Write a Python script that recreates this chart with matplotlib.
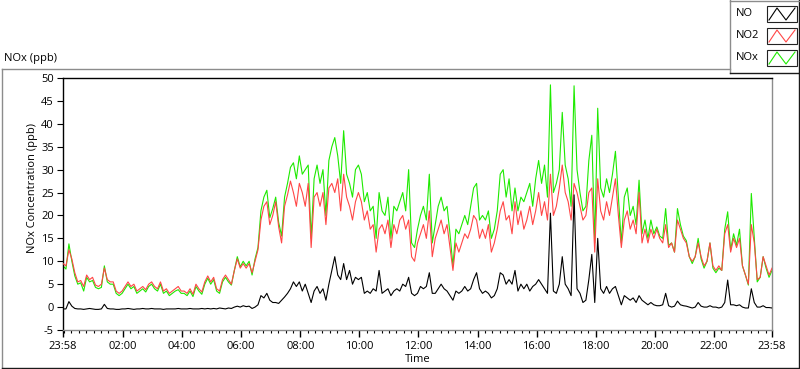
import matplotlib
matplotlib.use("Agg")
import matplotlib.pyplot as plt
import matplotlib.dates as mdates
from matplotlib.lines import Line2D
from matplotlib.patches import Rectangle
import pandas as pd

plt.rcParams['font.family'] = ['Open Sans', 'DejaVu Sans']

# ---------------- data (6-minute samples) ----------------
start_time = "2000-01-01 23:58"
sample_minutes = 6

no2 = [9.5, 9.0, 12.5, 10.5, 7.5, 5.5, 5.8, 4.5, 7.0, 6.0,
       6.5, 4.8, 4.5, 5.0, 8.5, 6.0, 5.5, 5.5, 3.5, 3.0,
       3.5, 4.5, 5.5, 4.5, 5.0, 3.5, 4.0, 4.5, 3.8, 5.0,
       5.5, 4.5, 4.0, 5.5, 3.5, 4.0, 3.0, 3.5, 4.0, 4.5,
       3.5, 3.5, 3.0, 4.0, 2.8, 5.0, 4.0, 3.3, 5.5, 6.8,
       5.5, 6.5, 4.0, 3.5, 6.0, 7.0, 6.0, 5.0, 8.0, 10.5,
       8.5, 9.5, 8.5, 9.5, 7.5, 10.0, 12.5, 19.0, 22.0, 23.0,
       18.0, 20.0, 23.0, 17.5, 14.0, 22.0, 24.5, 27.5, 25.0, 22.0,
       27.0, 25, 22, 27, 13, 24, 25, 22, 25, 18,
       26, 27, 25, 28, 21, 29, 24, 22, 19, 23,
       25, 23, 19, 21, 17, 18, 12, 17, 18, 16,
       19, 13, 18, 16, 19, 20, 17, 19, 11, 10,
       14, 16, 18, 15, 21, 11, 15, 17, 19, 16,
       18, 13, 8, 14, 12, 14, 16, 15, 17, 20,
       19, 15, 17, 15, 18, 12, 14, 17, 21, 23,
       19, 20, 16, 23, 18, 21, 17, 19, 22, 18,
       21, 25, 20, 23, 19, 29, 20, 22, 26, 31,
       25, 23, 19, 27, 25, 22, 19, 20, 25, 26,
       12, 28, 21, 19, 23, 20, 24, 28, 20, 13,
       19, 21, 17, 19, 16, 25, 14, 17, 14, 17,
       15, 17, 15, 14, 18, 13, 14, 12, 19, 17,
       15, 14, 11, 10, 11, 14, 11, 9, 10, 14,
       9, 8, 9, 8, 16, 18, 12, 15, 13, 15,
       9, 7, 5, 18, 14, 6, 6.5, 11, 9, 7,
       8.5]

nox = [9.0, 8.3, 13.8, 10.0, 6.8, 5.0, 5.3, 3.5, 6.5, 5.5,
       5.8, 4.3, 4.0, 4.3, 9.0, 5.5, 5.0, 5.0, 3.0, 2.5,
       3.0, 4.0, 5.0, 4.0, 4.5, 3.0, 3.5, 4.0, 3.3, 4.5,
       5.0, 4.0, 3.5, 5.0, 3.0, 3.5, 2.5, 3.0, 3.5, 3.8,
       3.0, 3.0, 2.5, 3.5, 2.3, 4.5, 3.5, 2.8, 5.0, 6.3,
       5.0, 6.0, 3.5, 3.0, 5.5, 6.5, 5.5, 4.8, 8.0, 11.0,
       8.8, 10.0, 9.0, 10.0, 7.0, 10.5, 13.0, 21.0, 24.0, 25.5,
       19.5, 21.5, 24.0, 18.5, 15.5, 24.0, 27.0, 30.5, 31.5, 28.0,
       33.0, 29, 30, 31, 15, 28, 31, 27, 30, 20,
       32, 35, 37, 33, 27, 38.5, 29, 27, 24, 30,
       31, 29, 23, 25, 21, 22, 15, 25, 21, 20,
       24, 15, 22, 21, 23, 25, 21, 30, 14, 13,
       17, 20, 22, 19, 29, 14, 18, 22, 24, 21,
       22, 16, 9, 17, 16, 18, 20, 18, 22, 26,
       27, 19, 20, 19, 21, 15, 17, 21, 29, 30,
       24, 28, 21, 26, 21, 24, 23, 25, 27, 22,
       28, 32, 27, 31, 24, 48.5, 25, 27, 30, 42.5,
       31, 28, 22, 48.3, 30, 25, 21, 22, 32, 37.5,
       14, 43.4, 26, 24, 28, 25, 29, 34, 24, 14,
       24, 26, 20, 22, 18, 27.7, 16, 19, 15, 19,
       16, 17.5, 15.5, 15, 21.5, 13.5, 14, 12, 21.5, 18,
       15.5, 14.5, 11, 9.5, 11, 15, 10.5, 8.5, 10, 14,
       8.5, 7.5, 8.5, 8, 17, 20.8, 12.5, 16, 13.5, 17,
       9, 7, 4.8, 24.8, 15, 5.5, 6.5, 11, 8.5, 6.5,
       8]

no = [-0.4, -0.4, 1.2, 0.2, -0.3, -0.4, -0.4, -0.5, -0.4, -0.3,
      -0.4, -0.5, -0.5, -0.4, 0.6, -0.3, -0.4, -0.4, -0.5, -0.5,
      -0.4, -0.4, -0.3, -0.4, -0.5, -0.4, -0.4, -0.3, -0.4, -0.4,
      -0.3, -0.4, -0.4, -0.4, -0.5, -0.4, -0.4, -0.4, -0.4, -0.3,
      -0.4, -0.4, -0.4, -0.3, -0.4, -0.4, -0.4, -0.3, -0.4, -0.3,
      -0.4, -0.3, -0.4, -0.2, -0.3, -0.4, -0.2, -0.3, 0.0, 0.2,
      0.0, 0.3, 0.1, 0.2, -0.3, 0.0, 0.5, 2.5, 2.0, 3.0,
      1.5, 1.0, 1.0, 0.8, 1.5, 2.2, 3.0, 4.0, 5.5, 4.5,
      5.5, 3.5, 5.0, 3.0, 1.0, 3.5, 4.5, 3.0, 4.0, 1.5,
      5.0, 8.0, 11.0, 7.0, 6.0, 9.5, 6.0, 8.0, 5.0, 6.5,
      6.0, 6.5, 3.0, 3.5, 3.0, 4.0, 3.5, 8.0, 3.0, 3.5,
      4.0, 2.5, 3.5, 4.0, 3.5, 5.0, 4.5, 6.5, 3.0, 2.5,
      3.0, 4.5, 4.0, 4.5, 7.5, 3.0, 3.0, 4.0, 5.0, 4.0,
      3.5, 2.5, 1.5, 3.5, 3.0, 3.5, 4.5, 3.5, 4.0, 6.0,
      7.5, 4.0, 3.0, 3.5, 3.0, 2.0, 2.5, 4.0, 7.5, 7.0,
      5.0, 6.0, 5.0, 8.0, 3.5, 5.0, 4.0, 5.0, 3.5, 4.5,
      5.0, 6.0, 5.0, 4.0, 3.0, 20.5, 3.5, 3.0, 5.0, 11.0,
      5.0, 4.0, 2.5, 24.5, 4.0, 3.0, 1.0, 1.5, 6.0, 11.5,
      1.0, 15.0, 4.0, 3.0, 4.5, 3.0, 4.0, 4.5, 2.5, 0.5,
      2.5, 2.0, 1.5, 2.0, 1.0, 2.5, 1.5, 1.0, 0.5, 1.0,
      0.5, 0.3, 0.3, 0.5, 3.0, 0.3, 0.0, 0.2, 1.3, 0.5,
      0.3, 0.2, 0.0, -0.2, 0.0, 1.0, 0.2, 0.0, 0.0, 0.3,
      0.0, 0.0, -0.2, 0.0, 1.0, 5.9, 0.5, 0.5, 0.3, 0.5,
      0.0, -0.2, -0.2, 4.0, 1.0, 0.0, 0.0, 0.3, -0.1, -0.1,
      -0.2]

y_ticks = [-5, 0, 5, 10, 15, 20, 25, 30, 35, 40, 45, 50]
x_tick_times = ["2000-01-01 23:58", "2000-01-02 02:00", "2000-01-02 04:00",
                "2000-01-02 06:00", "2000-01-02 08:00", "2000-01-02 10:00",
                "2000-01-02 12:00", "2000-01-02 14:00", "2000-01-02 16:00",
                "2000-01-02 18:00", "2000-01-02 20:00", "2000-01-02 22:00",
                "2000-01-02 23:58"]
series_names = ["NO", "NO2", "NOx"]

# ---------------- figure ----------------
W, H = 800, 369
fig = plt.figure(figsize=(W / 100, H / 100), dpi=100)
fig.patch.set_facecolor("white")


def fx(px):
    return px / W


def fy(py):
    return 1 - py / H


times = pd.date_range(start_time, periods=len(no2), freq=f"{sample_minutes}min")

ax_l, ax_r, ax_t, ax_b = 63, 772, 78, 330
ax = fig.add_axes([fx(ax_l), fy(ax_b), fx(ax_r - ax_l), (ax_b - ax_t) / H])

c_no, c_no2, c_nox = "#000000", "#FF4646", "#1EEA00"
ax.plot(times, nox, color=c_nox, lw=0.8, zorder=2)
ax.plot(times, no2, color=c_no2, lw=0.8, zorder=3)
ax.plot(times, no, color=c_no, lw=0.8, zorder=4)

ax.set_xlim(times[0], times[-1])
ax.set_ylim(-5, 50)
ax.set_yticks(y_ticks)
ax.set_yticklabels([str(v) for v in y_ticks])

xt = pd.to_datetime(x_tick_times)
ax.set_xticks(xt)
ax.set_xticklabels([t.strftime("%H:%M") for t in xt])
ax.xaxis.set_minor_locator(mdates.MinuteLocator(byminute=[0, 15, 30, 45]))

for s in ["left", "top"]:
    ax.spines[s].set_color("black")
    ax.spines[s].set_linewidth(1.0)
for s in ["right", "bottom"]:
    ax.spines[s].set_color("#8c8c8c")
    ax.spines[s].set_linewidth(1.0)

ax.tick_params(axis="y", which="major", length=4, width=0.8, pad=2.5,
               labelsize=8, colors="black", direction="out")
ax.tick_params(axis="x", which="major", length=5, width=1.0, pad=3,
               labelsize=8, colors="black", direction="out")
ax.tick_params(axis="x", which="minor", length=2.5, width=0.8, direction="out",
               colors="black")

fig.text(fx(418), fy(360), "Time", ha="center", va="center", fontsize=8)
fig.text(fx(33), fy(188), "NOx Concentration (ppb)", ha="center", va="center",
         rotation=90, fontsize=8)
fig.text(fx(4), fy(58), "NOx (ppb)", ha="left", va="center", fontsize=8)

# outer frame of graph (LabVIEW style)
def fline(x0, y0, x1, y1, color, lw=1.0):
    fig.add_artist(Line2D([fx(x0), fx(x1)], [fy(y0), fy(y1)], color=color,
                          lw=lw, transform=fig.transFigure))

fline(1.5, 69, 730, 69, "#8c8c8c")
fline(1.5, 69, 1.5, 367.5, "#8c8c8c")
fline(1.5, 367.5, 798.5, 367.5, "#1a1a1a")
fline(798.5, 73, 798.5, 367.5, "#1a1a1a")

# legend box
fline(730, 0, 730, 73, "#8c8c8c")
fline(730, 73, 799, 73, "#1a1a1a")
fline(798.5, 0, 798.5, 73, "#1a1a1a")
fline(730, 0.5, 799, 0.5, "#8c8c8c")

legend_colors = [c_no, c_no2, c_nox]
legend_rows = [14, 36, 58]
for name, col, yc in zip(series_names, legend_colors, legend_rows):
    fig.text(fx(736), fy(yc), name, ha="left", va="center", fontsize=8)
    box = Rectangle((fx(767), fy(yc + 8)), fx(30), 16 / H, transform=fig.transFigure,
                    facecolor="white", edgecolor="#222222", lw=0.8)
    fig.add_artist(box)
    zx = [769, 777, 786, 795]
    zy = [yc + 6, yc - 6, yc + 6, yc - 6]
    fig.add_artist(Line2D([fx(v) for v in zx], [fy(v) for v in zy], color=col,
                          lw=0.8, transform=fig.transFigure))

fig.savefig("out.png", dpi=100)
